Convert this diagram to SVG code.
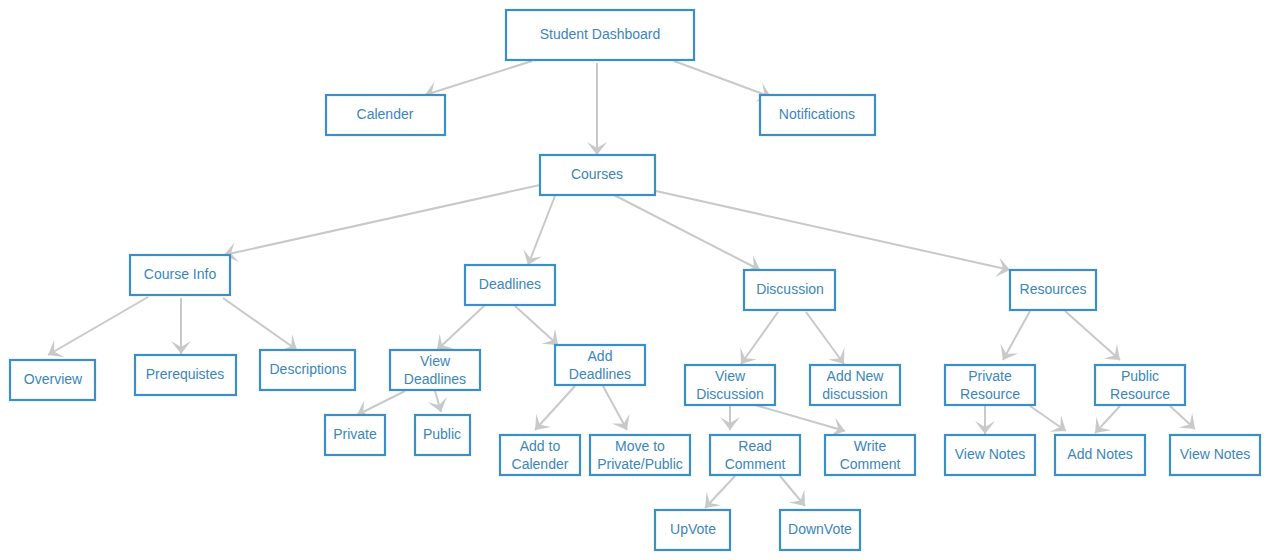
<svg xmlns="http://www.w3.org/2000/svg" width="1270" height="560" viewBox="0 0 1270 560">
<style>
.n rect{fill:#fff;stroke:#3b8fc7;stroke-width:2.2}
.n text{font-family:"Liberation Sans",Arial,sans-serif;font-size:14px;fill:#3a86bd;text-anchor:middle}
#edges line{stroke:#c9c9c9;stroke-width:2;marker-end:url(#ah)}
</style>
<defs>
<marker id="ah" markerUnits="userSpaceOnUse" viewBox="-14 -11 15 22" markerWidth="15" markerHeight="22" refX="0" refY="0" orient="auto">
<path d="M0,0 L-13,-10 L-7,0 L-13,10 Z" fill="#c9c9c9"/>
</marker>
</defs>
<rect width="1270" height="560" fill="#fff"/>
<g id="edges">
<line x1="532" y1="61" x2="425" y2="95"/>
<line x1="597" y1="63" x2="597" y2="155"/>
<line x1="674" y1="61" x2="771" y2="97"/>
<line x1="540" y1="185" x2="224" y2="255"/>
<line x1="555" y1="196" x2="528" y2="265"/>
<line x1="614" y1="195" x2="760" y2="270"/>
<line x1="656" y1="191" x2="1010" y2="270"/>
<line x1="148" y1="297" x2="48" y2="355"/>
<line x1="181" y1="298" x2="181" y2="354"/>
<line x1="223" y1="298" x2="297" y2="350"/>
<line x1="484" y1="306" x2="437" y2="350"/>
<line x1="515" y1="306" x2="558" y2="345"/>
<line x1="405" y1="391" x2="357" y2="415"/>
<line x1="435" y1="391" x2="441" y2="412"/>
<line x1="575" y1="386" x2="535" y2="430"/>
<line x1="603" y1="386" x2="627" y2="430"/>
<line x1="778" y1="312" x2="741" y2="364"/>
<line x1="806" y1="312" x2="844" y2="364"/>
<line x1="730" y1="406" x2="730" y2="430"/>
<line x1="755" y1="405" x2="845" y2="431"/>
<line x1="735" y1="476" x2="705" y2="508"/>
<line x1="780" y1="476" x2="805" y2="506"/>
<line x1="1030" y1="311" x2="1003" y2="360"/>
<line x1="1065" y1="311" x2="1120" y2="360"/>
<line x1="985" y1="406" x2="985" y2="434"/>
<line x1="1030" y1="406" x2="1066" y2="431"/>
<line x1="1120" y1="406" x2="1095" y2="433"/>
<line x1="1170" y1="406" x2="1195" y2="429"/>
</g>
<g id="n-dashboard" class="n"><rect x="506" y="10" width="188" height="50"/><text x="600" y="39">Student Dashboard</text></g>
<g id="n-calender" class="n"><rect x="326" y="95" width="119" height="40"/><text x="385" y="119">Calender</text></g>
<g id="n-notifications" class="n"><rect x="760" y="95" width="115" height="40"/><text x="817" y="119">Notifications</text></g>
<g id="n-courses" class="n"><rect x="540" y="155" width="115" height="40"/><text x="597" y="179">Courses</text></g>
<g id="n-courseinfo" class="n"><rect x="130" y="255" width="100" height="40"/><text x="180" y="279">Course Info</text></g>
<g id="n-deadlines" class="n"><rect x="465" y="265" width="90" height="40"/><text x="510" y="289">Deadlines</text></g>
<g id="n-discussion" class="n"><rect x="744" y="270" width="91" height="40"/><text x="790" y="294">Discussion</text></g>
<g id="n-resources" class="n"><rect x="1010" y="270" width="86" height="40"/><text x="1053" y="294">Resources</text></g>
<g id="n-overview" class="n"><rect x="10" y="360" width="85" height="40"/><text x="53" y="384">Overview</text></g>
<g id="n-prereq" class="n"><rect x="135" y="355" width="101" height="40"/><text x="185" y="379">Prerequistes</text></g>
<g id="n-desc" class="n"><rect x="260" y="350" width="95" height="40"/><text x="308" y="374">Descriptions</text></g>
<g id="n-viewdeadlines" class="n"><rect x="390" y="350" width="90" height="40"/><text x="435" y="366">View<tspan x="435" dy="18">Deadlines</tspan></text></g>
<g id="n-adddeadlines" class="n"><rect x="555" y="345" width="90" height="40"/><text x="600" y="361">Add<tspan x="600" dy="18">Deadlines</tspan></text></g>
<g id="n-private" class="n"><rect x="325" y="415" width="60" height="40"/><text x="355" y="439">Private</text></g>
<g id="n-public" class="n"><rect x="415" y="415" width="55" height="40"/><text x="442" y="439">Public</text></g>
<g id="n-addtocal" class="n"><rect x="500" y="435" width="80" height="40"/><text x="540" y="451">Add to<tspan x="540" dy="18">Calender</tspan></text></g>
<g id="n-move" class="n"><rect x="590" y="435" width="100" height="40"/><text x="640" y="451">Move to<tspan x="640" dy="18">Private/Public</tspan></text></g>
<g id="n-viewdisc" class="n"><rect x="685" y="365" width="90" height="40"/><text x="730" y="381">View<tspan x="730" dy="18">Discussion</tspan></text></g>
<g id="n-adddisc" class="n"><rect x="810" y="365" width="90" height="40"/><text x="855" y="381">Add New<tspan x="855" dy="18">discussion</tspan></text></g>
<g id="n-readcomment" class="n"><rect x="710" y="435" width="90" height="40"/><text x="755" y="451">Read<tspan x="755" dy="18">Comment</tspan></text></g>
<g id="n-writecomment" class="n"><rect x="825" y="435" width="90" height="40"/><text x="870" y="451">Write<tspan x="870" dy="18">Comment</tspan></text></g>
<g id="n-upvote" class="n"><rect x="655" y="510" width="75" height="40"/><text x="693" y="534">UpVote</text></g>
<g id="n-downvote" class="n"><rect x="780" y="510" width="80" height="40"/><text x="820" y="534">DownVote</text></g>
<g id="n-privres" class="n"><rect x="945" y="365" width="90" height="40"/><text x="990" y="381">Private<tspan x="990" dy="18">Resource</tspan></text></g>
<g id="n-pubres" class="n"><rect x="1095" y="365" width="90" height="40"/><text x="1140" y="381">Public<tspan x="1140" dy="18">Resource</tspan></text></g>
<g id="n-viewnotes1" class="n"><rect x="945" y="435" width="90" height="40"/><text x="990" y="459">View Notes</text></g>
<g id="n-addnotes" class="n"><rect x="1055" y="435" width="90" height="40"/><text x="1100" y="459">Add Notes</text></g>
<g id="n-viewnotes2" class="n"><rect x="1170" y="435" width="90" height="40"/><text x="1215" y="459">View Notes</text></g>
</svg>
